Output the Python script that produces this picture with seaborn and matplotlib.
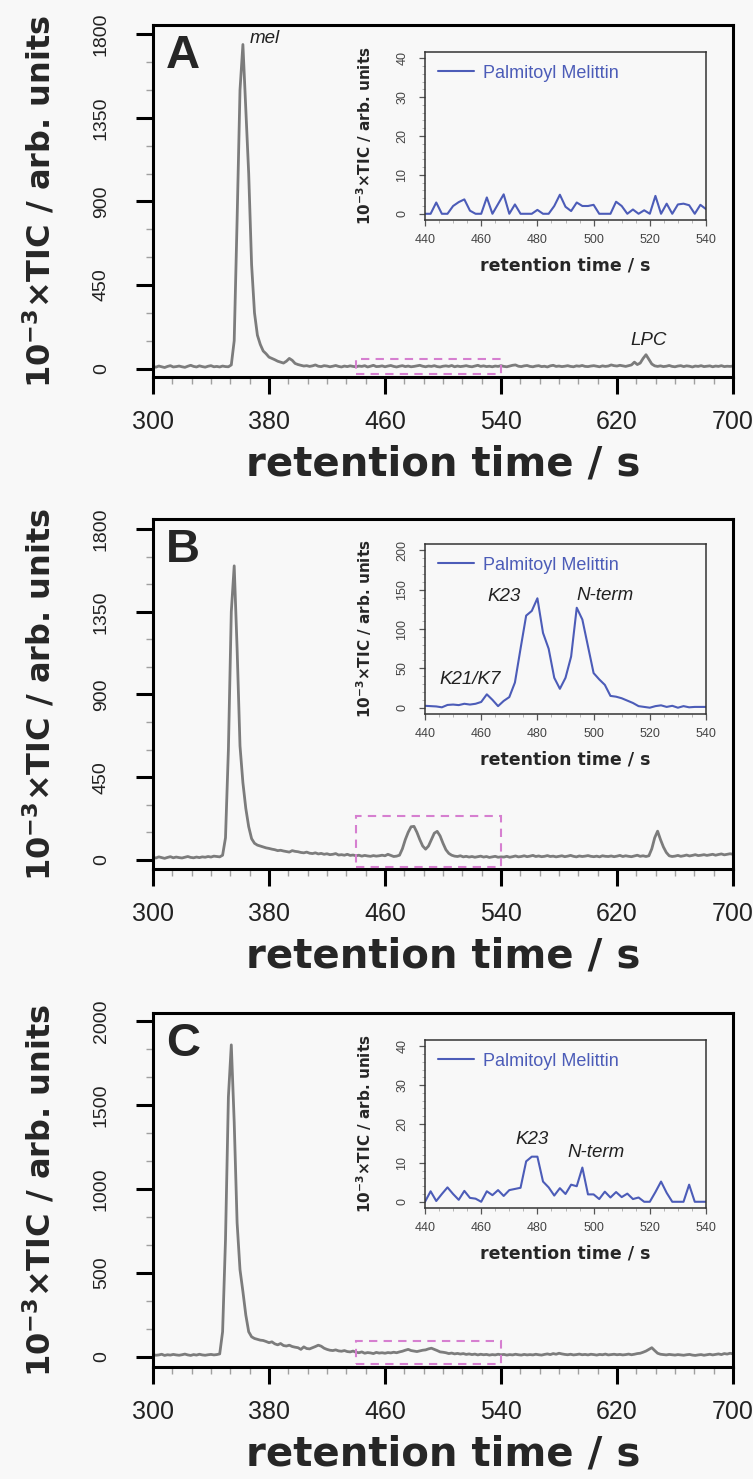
import numpy as np
import pandas as pd
import matplotlib
matplotlib.use("Agg")
import matplotlib.pyplot as plt
import seaborn as sns
from matplotlib.ticker import AutoMinorLocator, FixedLocator
from matplotlib.patches import Rectangle

# ---------------- data ----------------
rt_start, rt_step = 300, 2          # main TIC traces, retention time grid (s)
tic_A = [
    12, 8, 14, 10, 6, 12, 16, 9, 11, 14,
    10, 7, 13, 18, 12, 9, 15, 11, 8, 13,
    16, 10, 12, 9, 14, 11, 10, 20, 150, 800,
    1500, 1745, 1400, 1050, 560, 300, 180, 130, 95, 80,
    62, 55, 48, 40, 35, 30, 40, 55, 45, 28,
    22, 18, 14, 16, 12, 15, 20, 13, 11, 16,
    14, 10, 13, 17, 12, 9, 14, 11, 15, 12,
    10, 14, 12, 16, 9, 13, 18, 11, 12, 15,
    10, 14, 17, 12, 9, 13, 16, 11, 14, 10,
    12, 15, 18, 13, 10, 14, 12, 16, 11, 9,
    13, 15, 12, 17, 10, 14, 11, 13, 16, 12,
    10, 14, 18, 12, 15, 11, 13, 10, 14, 12,
    16, 12, 10, 14, 18, 20, 13, 11, 15, 17,
    12, 10, 14, 16, 11, 13, 9, 15, 18, 12,
    14, 11, 13, 16, 12, 10, 15, 13, 17, 12,
    11, 14, 16, 13, 10, 15, 12, 14, 20, 16,
    14, 18, 15, 12, 16, 20, 35, 22, 30, 55,
    75, 50, 25, 15, 12, 15, 11, 13, 17, 12,
    10, 14, 16, 11, 15, 13, 9, 14, 12, 16,
    11, 13, 15, 10, 14, 12, 16, 11, 13, 12,
    14,
]
tic_B = [
    14, 10, 16, 12, 8, 13, 17, 11, 15, 12,
    10, 14, 18, 13, 11, 15, 12, 16, 14, 18,
    15, 20, 18, 16, 25, 120, 600, 1350, 1600, 1150,
    620, 420, 280, 180, 115, 90, 80, 75, 70, 65,
    62, 58, 55, 50, 52, 48, 45, 42, 50, 46,
    44, 40, 38, 42, 36, 34, 38, 32, 35, 30,
    33, 28, 30, 34, 26, 28, 25, 30, 24, 26,
    22, 25, 20, 24, 21, 19, 23, 20, 22, 25,
    22, 30, 24, 18, 20, 25, 60, 110, 150, 180,
    182, 150, 110, 75, 58, 75, 110, 145, 155, 130,
    90, 55, 35, 25, 20, 18, 22, 16, 19, 15,
    18, 14, 17, 20, 15, 18, 13, 16, 19, 14,
    16, 15, 19, 14, 17, 21, 16, 18, 22, 17,
    20, 24, 18, 21, 17, 19, 23, 18, 20, 16,
    19, 22, 17, 20, 24, 19, 16, 21, 18, 20,
    23, 19, 17, 20, 16, 22, 19, 18, 21, 17,
    20, 24, 18, 22, 19, 17, 21, 25, 19, 22,
    18, 22, 60, 120, 156, 110, 70, 40, 22, 18,
    20, 24, 19, 22, 26, 21, 24, 28, 23, 25,
    28, 24, 27, 30, 25, 29, 32, 27, 30, 33,
    30,
]
tic_C = [
    14, 10, 12, 16, 9, 13, 11, 15, 12, 10,
    13, 17, 12, 9, 14, 11, 16, 12, 10, 13,
    15, 12, 14, 18, 150, 700, 1550, 1860, 1400, 800,
    520, 390, 250, 150, 120, 110, 105, 100, 98, 92,
    85, 90, 78, 72, 80, 68, 65, 70, 62, 58,
    55, 45, 60, 50, 48, 55, 62, 70, 64, 52,
    45, 40, 38, 42, 36, 34, 38, 32, 30, 35,
    28, 25, 30, 22, 26, 24, 20, 27, 23, 25,
    22, 26, 24, 28, 25, 30, 34, 40, 45, 38,
    35, 32, 36, 40, 42, 48, 52, 45, 38, 30,
    28, 25, 20, 23, 18, 21, 17, 20, 15, 18,
    14, 17, 12, 16, 13, 15, 11, 14, 12, 16,
    13, 15, 11, 14, 12, 16, 13, 11, 15, 12,
    14, 12, 16, 13, 11, 15, 18, 14, 20, 16,
    22, 18, 15, 13, 16, 12, 14, 17, 13, 15,
    12, 16, 14, 11, 15, 13, 17, 12, 14, 16,
    13, 15, 12, 14, 17, 13, 16, 20, 22, 28,
    35, 45, 55, 38, 22, 16, 14, 12, 15, 13,
    11, 14, 12, 10, 13, 15, 11, 9, 12, 14,
    10, 13, 16, 12, 15, 18, 14, 20, 17, 22,
    18,
]

pm_start, pm_step = 440, 2           # palmitoyl melittin inset traces
pm_A = [0, 0, 2.9, 0, 0, 2, 3, 3.7, 0.8, 0,
        0, 4.2, 0, 2.5, 5, 0, 2.4, 0, 0, 0,
        1, 0, 0, 2, 4.9, 1.8, 0.7, 2.9, 2, 2,
        2.3, 0, 0, 0, 3.1, 2, 0, 1.1, 0, 0.9,
        0, 4.6, 0, 2.6, 0, 2.4, 2.6, 2.2, 0, 2.3,
        1.2]
pm_B = [2.4, 2, 1.6, 0.5, 3.5, 4, 3.3, 5, 4, 5,
        7.3, 17, 10, 2, 8.6, 13.5, 32, 75, 117, 123,
        139, 95, 75, 38, 24, 38, 65, 127, 112, 78,
        44, 36, 29, 15, 14, 12, 9, 6, 2, 1,
        0, 2, 3, 1, 2.4, 0, 2, 0.5, 1, 1,
        1]
pm_C = [0, 2.7, 0.2, 2, 3.7, 2, 0.5, 2.8, 1, 0.8,
        0, 2.7, 1.7, 3, 1.5, 3, 3.3, 3.6, 10.4, 11.6,
        11.6, 5.2, 3.7, 1.6, 3.5, 2, 4.4, 4, 8.8, 1.9,
        1.9, 0.7, 2.6, 1.1, 2.5, 1.2, 2.1, 0.7, 1.1, 0,
        0, 2.5, 5.2, 2.3, 0, 0, 0, 4.4, 0, 0,
        0]

panel_letters = ["A", "B", "C"]
main_xticks = [300, 380, 460, 540, 620, 700]
main_yticks = [[0, 450, 900, 1350, 1800], [0, 450, 900, 1350, 1800],
               [0, 500, 1000, 1500, 2000]]
main_ylims = [(-45, 1850), (-50, 1855), (-60, 2050)]
inset_xticks = [440, 460, 480, 500, 520, 540]
inset_yticks = [[0, 10, 20, 30, 40], [0, 50, 100, 150, 200], [0, 10, 20, 30, 40]]
inset_ylims = [(-1.6, 41.6), (-8, 208), (-1.6, 41.6)]
zoom_box_x = (440, 540)
zoom_box_y = [(-27, 54), (-37, 239), (-41, 96)]
main_notes = [[("mel", 367, 1775, "left"), ("LPC", 642, 150, "center")], [], []]
inset_notes = [[],
               [("K23", 468, 141), ("N-term", 504, 143), ("K21/K7", 456, 36)],
               [("K23", 478, 16), ("N-term", 501, 12.6)]]
legend_label = "Palmitoyl Melittin"
xlabel_text = "retention time / s"
ylabel_text = r"10$^{\mathbf{-3}}$" + "\u00d7TIC / arb. units"

# ---------------- style ----------------
sns.set_theme(style="ticks")
plt.rcParams["font.family"] = ["Liberation Sans", "DejaVu Sans"]
plt.rcParams["mathtext.fontset"] = "custom"
plt.rcParams["mathtext.rm"] = "DejaVu Sans"
plt.rcParams["mathtext.bf"] = "DejaVu Sans:bold"
plt.rcParams["mathtext.it"] = "DejaVu Sans:italic"

LABEL_FONT = ["DejaVu Sans"]
BG = "#f8f8f8"
GREY = "#7c7c7c"
BLUE = "#4c5cb8"
PINK = "#d67fd0"

W, H = 753, 1479
fig = plt.figure(figsize=(W / 100, H / 100), dpi=100, facecolor=BG)


def rect(l, t, r, b):
    return [l / W, 1 - b / H, (r - l) / W, (b - t) / H]


main_boxes = [(153, 25, 733, 377), (153, 519, 733, 869), (153, 1013, 733, 1367)]
inset_boxes = [(425, 52, 706, 220), (425, 544, 706, 714), (425, 1040, 706, 1208)]

tics = [tic_A, tic_B, tic_C]
pms = [pm_A, pm_B, pm_C]

for i in range(3):
    ax = fig.add_axes(rect(*main_boxes[i]))
    ax.set_facecolor(BG)
    y = np.asarray(tics[i], dtype=float)
    df = pd.DataFrame({"rt": rt_start + rt_step * np.arange(len(y)), "tic": y})
    sns.lineplot(data=df, x="rt", y="tic", ax=ax, color=GREY, lw=2.0)
    ax.set_xlim(main_xticks[0], main_xticks[-1])
    ax.set_ylim(*main_ylims[i])
    ax.xaxis.set_major_locator(FixedLocator(main_xticks))
    ax.yaxis.set_major_locator(FixedLocator(main_yticks[i]))
    ax.xaxis.set_minor_locator(AutoMinorLocator(6))
    ax.yaxis.set_minor_locator(AutoMinorLocator(3))
    for s in ax.spines.values():
        s.set_linewidth(2.2)
        s.set_color("black")
    ax.tick_params(which="major", direction="out", length=12, width=2.2, color="black")
    ax.tick_params(which="minor", direction="out", length=5, width=1.0, color="#a0a0a0")
    ax.tick_params(axis="x", which="major", labelsize=18, pad=12, labelcolor="#222222")
    ax.tick_params(axis="y", which="major", labelsize=14, pad=19, labelrotation=90,
                   labelcolor="#222222")
    for lbl in ax.get_yticklabels():
        lbl.set_va("center")
    ax.set_xlabel(xlabel_text, fontsize=29, fontweight="bold", family=LABEL_FONT)
    ax.set_ylabel(ylabel_text, fontsize=23, fontweight="bold", family=LABEL_FONT)
    ax.xaxis.set_label_coords(0.5, -0.192)
    ax.yaxis.set_label_coords(-0.165, 0.5)
    ax.text(0.022, 0.975, panel_letters[i], transform=ax.transAxes, fontsize=34,
            fontweight="bold", ha="left", va="top")
    for txt, xx, yy, ha in main_notes[i]:
        ax.text(xx, yy, txt, fontsize=13.5, style="italic", ha=ha, va="center",
                color="#222222")
    y0, y1 = zoom_box_y[i]
    ax.add_patch(Rectangle((zoom_box_x[0], y0), zoom_box_x[1] - zoom_box_x[0], y1 - y0,
                           fill=False, ls=(0, (4, 3)), ec=PINK, lw=1.5, zorder=3))

    # inset
    ins = fig.add_axes(rect(*inset_boxes[i]))
    ins.set_facecolor(BG)
    p = np.asarray(pms[i], dtype=float)
    dfi = pd.DataFrame({"rt": pm_start + pm_step * np.arange(len(p)), "pm": p})
    sns.lineplot(data=dfi, x="rt", y="pm", ax=ins, color=BLUE, lw=1.5, label=legend_label)
    ins.set_xlim(inset_xticks[0], inset_xticks[-1])
    ins.set_ylim(*inset_ylims[i])
    ins.xaxis.set_major_locator(FixedLocator(inset_xticks))
    ins.yaxis.set_major_locator(FixedLocator(inset_yticks[i]))
    ins.xaxis.set_minor_locator(AutoMinorLocator(4))
    ins.yaxis.set_minor_locator(AutoMinorLocator(5))
    for s in ins.spines.values():
        s.set_linewidth(1.1)
        s.set_color("#333333")
    ins.tick_params(which="major", direction="out", length=4, width=0.9, color="#555555",
                    labelsize=9, labelcolor="#444444")
    ins.tick_params(which="minor", direction="out", length=2, width=0.6, color="#aaaaaa")
    ins.tick_params(axis="x", which="major", pad=6)
    ins.tick_params(axis="y", which="major", labelrotation=90, pad=8)
    for lbl in ins.get_yticklabels():
        lbl.set_va("center")
    ins.set_xlabel(xlabel_text, fontsize=12.5, fontweight="bold", family=LABEL_FONT)
    ins.set_ylabel(ylabel_text, fontsize=11, fontweight="bold", family=LABEL_FONT)
    ins.xaxis.set_label_coords(0.5, -0.215)
    ins.yaxis.set_label_coords(-0.18, 0.5)
    ins.legend(loc="upper left", frameon=False, fontsize=13, handlelength=2.0,
               handletextpad=0.5, borderaxespad=0.3, labelcolor=BLUE)
    for txt, xx, yy in inset_notes[i]:
        ins.text(xx, yy, txt, fontsize=13.5, style="italic", ha="center", va="center",
                 color="#222222")

fig.savefig("out.png", dpi=100, facecolor=BG)
